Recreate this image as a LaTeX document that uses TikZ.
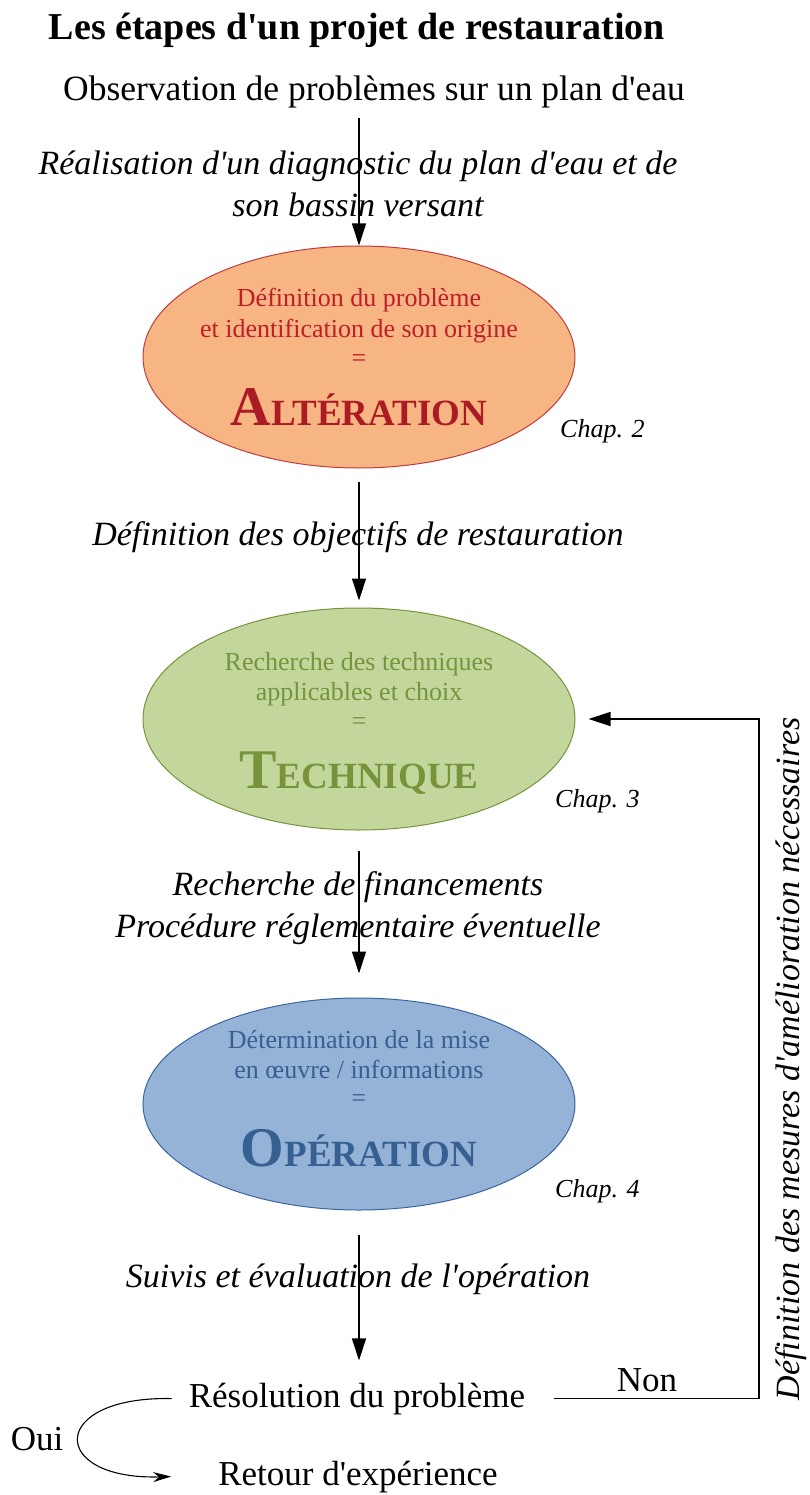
\documentclass[tikz,border=0pt]{standalone}
\usepackage{fontspec}
\setmainfont{Liberation Serif}
\usetikzlibrary{arrows.meta,shapes.geometric}
\definecolor{orfill}{RGB}{246,181,131}
\definecolor{ordraw}{RGB}{192,60,60}
\definecolor{ortext}{RGB}{190,30,40}
\definecolor{grfill}{RGB}{195,214,155}
\definecolor{grdraw}{RGB}{119,147,60}
\definecolor{grtext}{RGB}{119,147,60}
\definecolor{blfill}{RGB}{149,179,215}
\definecolor{bldraw}{RGB}{60,100,160}
\definecolor{bltext}{RGB}{55,96,146}
\newcommand{\apos}{\textquotesingle}
\begin{document}
\begin{tikzpicture}[x=1pt,y=-1pt,
  body/.style={font=\fontsize{35}{42}\selectfont, inner sep=0pt, anchor=base},
  ital/.style={font=\fontsize{34}{41}\selectfont\itshape, inner sep=0pt, anchor=base},
  etxt/.style={font=\fontsize{26}{30}\selectfont, inner sep=0pt, anchor=base},
  bigw/.style={font=\bfseries, inner sep=0pt, anchor=base},
  chap/.style={font=\fontsize{26}{30}\selectfont\itshape, inner sep=0pt, anchor=base west},
  ell/.style={ellipse, minimum width=432pt, minimum height=222pt, line width=1pt, inner sep=0pt},
  arr/.style={line width=1.3pt, -{Triangle[length=22pt,width=14pt]}},
  arrc/.style={line width=1.1pt, -{Stealth[length=18pt,width=10pt]}}]
\useasboundingbox (0,0) rectangle (810,1495);

% title and top
\node[body, font=\fontsize{38}{45}\selectfont\bfseries] (title) at (357,40) {Les étapes d\apos un projet de restauration};
\node[body, font=\fontsize{35.5}{42}\selectfont] (obs) at (374,101) {Observation de problèmes sur un plan d\apos eau};
\node[ital] (d1a) at (358,175) {Réalisation d\apos un diagnostic du plan d\apos eau et de};
\node[ital] (d1b) at (358,217) {son bassin versant};

% ellipse 1
\node[ell, fill=orfill, draw=ordraw] (e1) at (359,357) {};
\node[etxt, text=ortext] (e1a) at (359,307) {Définition du problème};
\node[etxt, text=ortext] (e1b) at (359,337) {et identification de son origine};
\node[etxt, text=ortext] (e1c) at (359,366) {=};
\node[bigw, text=ortext!90!black] (e1d) at (359,425) {{\fontsize{56}{60}\selectfont A}{\fontsize{37}{40}\selectfont LTÉRATION}};
\node[chap] (c2) at (560,437) {Chap. 2};

\node[ital] (d2) at (358,545) {Définition des objectifs de restauration};

% ellipse 2
\node[ell, fill=grfill, draw=grdraw] (e2) at (359,719) {};
\node[etxt, text=grtext] (e2a) at (359,670) {Recherche des techniques};
\node[etxt, text=grtext] (e2b) at (359,700) {applicables et choix};
\node[etxt, text=grtext] (e2c) at (359,729) {=};
\node[bigw, text=grtext] (e2d) at (359,788) {{\fontsize{56}{60}\selectfont T}{\fontsize{37}{40}\selectfont ECHNIQUE}};
\node[chap] (c3) at (555,807) {Chap. 3};

\node[ital] (d3a) at (358,895) {Recherche de financements};
\node[ital] (d3b) at (358,937) {Procédure réglementaire éventuelle};

% ellipse 3
\node[ell, minimum height=212pt, fill=blfill, draw=bldraw] (e3) at (359,1104) {};
\node[etxt, text=bltext] (e3a) at (359,1048) {Détermination de la mise};
\node[etxt, text=bltext] (e3b) at (359,1078) {en œuvre / informations};
\node[etxt, text=bltext] (e3c) at (359,1106) {=};
\node[bigw, text=bltext] (e3d) at (359,1166) {{\fontsize{56}{60}\selectfont O}{\fontsize{37}{40}\selectfont PÉRATION}};
\node[chap] (c4) at (555,1197) {Chap. 4};

\node[ital] (d4) at (358,1287) {Suivis et évaluation de l\apos opération};

% bottom
\node[body] (res) at (357,1407) {Résolution du problème};
\node[body] (ret) at (358,1485) {Retour d\apos expérience};
\node[body] (non) at (647,1391) {Non};
\node[body] (oui) at (37,1450) {Oui};
\node[font=\fontsize{34}{40}\selectfont\itshape, inner sep=0pt, rotate=90] (mes) at (791,1059) {Définition des mesures d\apos amélioration nécessaires};

\coordinate (fb) at (759,1397);

% connectors
\draw[arr, shorten <=9pt] (e1.north |- obs.south) -- (e1.north);
\draw[arr, shorten <=13pt, shorten >=7pt] (e1.south) -- (e2.north);
\draw[arr, shorten <=20pt, shorten >=24pt] (e2.south) -- (e3.north);
\draw[arr, shorten <=24pt, shorten >=22pt] (e3.south) -- (e3.south |- res.north);
\draw[arr] ([xshift=29pt]res.east) -- (fb |- res.east) |- ([xshift=13pt]e2.east);
\draw[arrc] ([xshift=-17pt]res.west) .. controls (48,1396) and (48,1480) .. ([xshift=-47pt]ret.west);
\end{tikzpicture}
\end{document}
